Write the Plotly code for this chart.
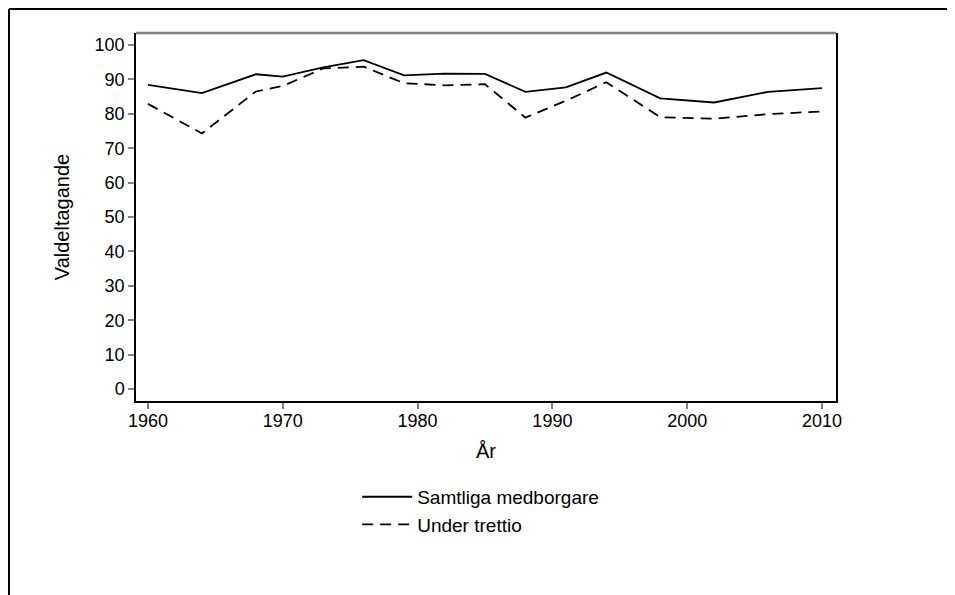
import plotly.graph_objects as go

years = [1960, 1964, 1968, 1970, 1973, 1976, 1979, 1982, 1985, 1988, 1991, 1994, 1998, 2002, 2006, 2010]
samtliga = [88.4, 86.0, 91.5, 90.8, 93.5, 95.6, 91.2, 91.7, 91.6, 86.4, 87.7, 92.0, 84.5, 83.3, 86.4, 87.5]
under_trettio = [82.9, 74.3, 86.5, 88.1, 93.2, 93.7, 88.9, 88.3, 88.6, 78.9, 83.8, 89.2, 79.0, 78.6, 79.9, 80.7]

font = "Liberation Sans, Arial, sans-serif"

fig = go.Figure()
fig.add_trace(go.Scatter(x=years, y=samtliga, mode='lines', name='Samtliga medborgare',
                         line=dict(color='black', width=1.8)))
fig.add_trace(go.Scatter(x=years, y=under_trettio, mode='lines', name='Under trettio',
                         line=dict(color='black', width=1.8, dash='11px,7px')))

fig.update_layout(
    width=955, height=595,
    margin=dict(l=128, r=127, t=25, b=202),
    paper_bgcolor='white', plot_bgcolor='white',
    font=dict(family=font, size=18, color='black'),
    showlegend=True,
    legend=dict(x=0.316, y=-0.209, xanchor='left', yanchor='top',
                font=dict(size=19), tracegroupgap=0, itemwidth=50,
                bgcolor='rgba(0,0,0,0)'),
)
fig.update_xaxes(range=[1959.11, 2011.04], tickvals=[1960, 1970, 1980, 1990, 2000, 2010],
                 showgrid=False, zeroline=False, showline=True, linecolor='black', linewidth=1.5,
                 ticks='outside', ticklen=6, tickwidth=1.5, tickcolor='gray',
                 ticklabelstandoff=-3,
                 title=dict(text='År', font=dict(size=20), standoff=14))
fig.update_yaxes(range=[-3.49, 103.5], tickvals=list(range(0, 101, 10)),
                 showgrid=False, zeroline=False, showline=True, linecolor='black', linewidth=1.5,
                 mirror=True,
                 ticks='outside', ticklen=6, tickwidth=1.5, tickcolor='gray',
                 title=dict(text='Valdeltagande', font=dict(size=20), standoff=20))

# gray top border of plot area
fig.add_shape(type='line', xref='paper', yref='paper', x0=0, x1=1, y0=1, y1=1,
              line=dict(color='gray', width=2.5))
# outer frame (top and left edges)
fig.add_shape(type='line', xref='paper', yref='paper', x0=-0.1814, x1=1.2, y0=1.0652, y1=1.0652,
              line=dict(color='black', width=2))
fig.add_shape(type='line', xref='paper', yref='paper', x0=-0.1814, x1=-0.1814, y0=-0.6, y1=1.0652,
              line=dict(color='black', width=2))

fig.write_html("out.html")
